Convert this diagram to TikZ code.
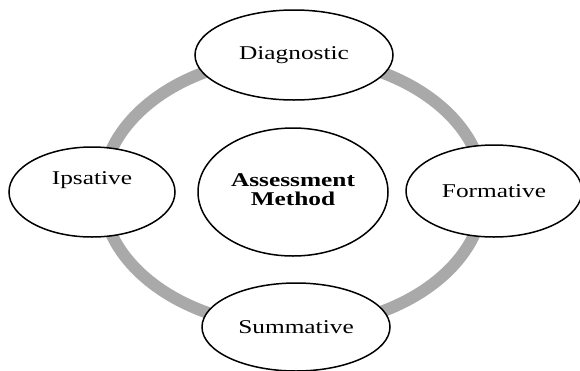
\documentclass[tikz,border=0pt]{standalone}
\usepackage{graphicx}
\usepackage{fontspec}
\setmainfont{Liberation Serif}
\usetikzlibrary{shapes.geometric}
\definecolor{ringgray}{HTML}{A9A9A9}
\newcommand{\wtxt}[1]{\scalebox{1.3}[1]{#1}}
\begin{document}
\begin{tikzpicture}[x=1pt,y=-1pt,
  bubble/.style={ellipse, draw=black, fill=white, line width=1.5pt, inner sep=0pt,
    font=\fontsize{19.5}{17}\selectfont},
  ringline/.style={draw=ringgray, line width=12pt}]
\useasboundingbox (0,0) rectangle (580,370);
\clip (0,0) rectangle (580,370);
\fill[white] (0,0) rectangle (580,370);
\coordinate (c) at (293,192);
\draw[ringline] (c) ellipse [x radius=191, y radius=135];
\node[bubble, minimum width=198pt, minimum height=90pt] (diag) at (294,55) {\wtxt{Diagnostic}};
\node[bubble, minimum width=190pt, minimum height=128pt] (am) at (c)
  {\wtxt{\bfseries\begin{tabular}{@{}c@{}}Assessment\\Method\end{tabular}}};
\node[bubble, minimum width=166pt, minimum height=90pt] (ips) at (92,192)
  {\raisebox{12pt}[\height][\depth]{\wtxt{Ipsative}}};
\node[bubble, minimum width=176pt, minimum height=92pt] (form) at (494,191) {\wtxt{Formative}};
\node[bubble, minimum width=188pt, minimum height=88pt] (summ) at (296,327) {\wtxt{Summative}};
\end{tikzpicture}
\end{document}
